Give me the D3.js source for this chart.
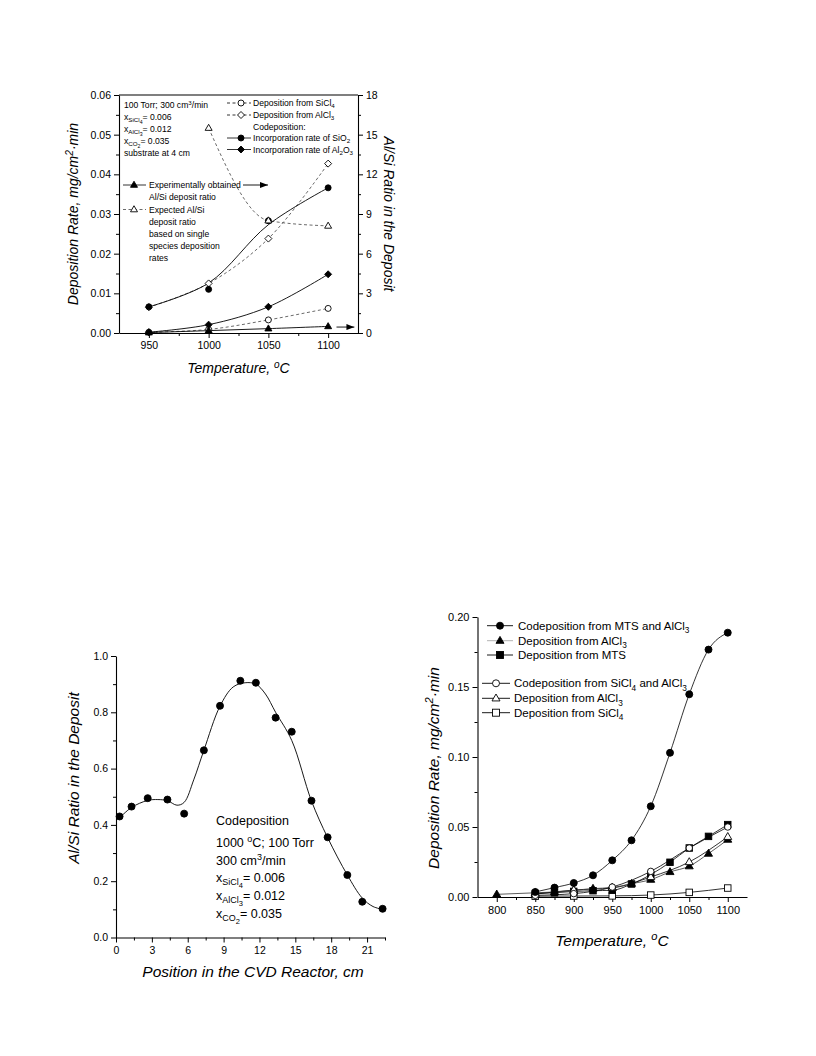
<!DOCTYPE html>
<html><head><meta charset="utf-8">
<script src="https://cdn.jsdelivr.net/npm/d3@7"></script>
<style>
body{margin:0;background:#fff;}
svg text{font-family:"Liberation Sans", Arial, Helvetica, sans-serif; fill:#000;}
</style></head><body>
<svg id="page" width="816" height="1056"></svg>
<script>
// ================= DATA =================
// Chart A (top): deposition rates vs temperature, substrate at 4 cm
const aTemps = [950, 1000, 1050, 1100];
const aDepSiCl4 = [0.0002, 0.0009, 0.0033, 0.0062];
const aDepAlCl3 = [0.0065, 0.0125, 0.0238, 0.0427];
const aIncSiO2 = [0.0066, 0.0110, 0.0283, 0.0366];
const aIncSiO2Fit = [0.0066, 0.0126, 0.0273, 0.0366];
const aIncAl2O3 = [0.0002, 0.0021, 0.0066, 0.0148];
const aRatioExp = [0.03, 0.18, 0.33, 0.50];
const aExpectedTemps = [1000, 1050, 1100];
const aRatioExpected = [15.5, 8.5, 8.1];
const aXTicks = [950, 1000, 1050, 1100];
const aYTicks = [0, 0.01, 0.02, 0.03, 0.04, 0.05, 0.06];
const aY2Ticks = [0, 3, 6, 9, 12, 15, 18];

// Chart B (bottom left): Al/Si ratio vs position
const bPos = [0.3, 1.3, 2.65, 4.3, 5.7, 7.35, 8.7, 10.4, 11.7, 13.35, 14.7, 16.35, 17.7, 19.35, 20.6, 22.3];
const bRatio = [0.43, 0.465, 0.495, 0.49, 0.44, 0.665, 0.823, 0.912, 0.905, 0.781, 0.731, 0.486, 0.356, 0.222, 0.127, 0.102];
const bFitPos = [0.3, 1.3, 2.65, 3.5, 4.3, 5.1, 5.7, 6.5, 7.35, 8.7, 9.8, 10.8, 11.7, 12.5, 13.35, 14.7, 16.35, 17.7, 19.35, 20.6, 21.5, 22.3];
const bFitRatio = [0.425, 0.462, 0.487, 0.49, 0.486, 0.47, 0.48, 0.56, 0.665, 0.822, 0.89, 0.905, 0.9, 0.865, 0.8, 0.70, 0.485, 0.355, 0.222, 0.14, 0.11, 0.10];
const bXTicks = [0, 3, 6, 9, 12, 15, 18, 21];
const bYTicks = [0, 0.2, 0.4, 0.6, 0.8, 1.0];

// Chart C (bottom right): deposition rates vs temperature
const cTempsMTS = [850, 875, 900, 925, 950, 975, 1000, 1025, 1050, 1075, 1100];
const cCodepMTS = [0.0036, 0.0067, 0.0100, 0.0155, 0.0262, 0.0405, 0.0648, 0.1030, 0.1448, 0.1767, 0.1888];
const cTempsAl = [800, 850, 875, 900, 925, 950, 975, 1000, 1025, 1050, 1075, 1100];
const cDepAlCl3Filled = [0.0019, 0.0030, 0.0036, 0.0046, 0.0060, 0.0068, 0.0095, 0.0124, 0.0179, 0.0220, 0.0310, 0.0410];
const cDepMTS = [0.0025, 0.0030, 0.0040, 0.0045, 0.0048, 0.0093, 0.0160, 0.0248, 0.0350, 0.0433, 0.0517];
const cTempsSi = [850, 900, 950, 1000, 1050, 1100];
const cCodepSiCl4 = [0.0012, 0.0024, 0.0071, 0.0183, 0.0350, 0.0500];
const cDepAlCl3Open = [0.0020, 0.0050, 0.0065, 0.0143, 0.0250, 0.0430];
const cDepSiCl4 = [0.0006, 0.0007, 0.0008, 0.0014, 0.0033, 0.0064];
const cXTicks = [800, 850, 900, 950, 1000, 1050, 1100];
const cYTicks = [0, 0.05, 0.10, 0.15, 0.20];

// ================= HELPERS =================
const svg = d3.select("#page");
svg.append("rect").attr("width", 816).attr("height", 1056).attr("fill", "#fff");
const defs = svg.append("defs");
defs.append("marker").attr("id", "arr").attr("viewBox", "0 0 8 6").attr("refX", 8).attr("refY", 3)
  .attr("markerWidth", 8).attr("markerHeight", 6).attr("markerUnits", "userSpaceOnUse").attr("orient", "auto")
  .append("path").attr("d", "M0,0 L8,3 L0,6 Z").attr("fill", "#000");

const OFF = {"0": 0, "1": 0.28, "2": 0.5, "-1": -0.38};
const SZ = {"0": 1, "1": 0.72, "2": 0.6, "-1": 0.72};
function rich(parent, x, y, parts, size, opt = {}) {
  const t = parent.append("text").attr("x", x).attr("y", y).style("font-size", size + "px");
  if (opt.anchor) t.attr("text-anchor", opt.anchor);
  if (opt.italic) t.style("font-style", "italic");
  if (opt.transform) t.attr("transform", opt.transform);
  let cur = 0;
  parts.forEach(p => {
    const [s, lvl] = typeof p === "string" ? [p, 0] : p;
    const off = OFF[lvl] * size;
    t.append("tspan").attr("dy", (off - cur).toFixed(2)).style("font-size", (SZ[lvl] * size).toFixed(2) + "px").text(s);
    cur = off;
  });
  return t;
}
function mark(g, type, cx, cy, s, filled) {
  let el;
  if (type === "circle") el = g.append("circle").attr("cx", cx).attr("cy", cy).attr("r", s / 2);
  else if (type === "square") el = g.append("rect").attr("x", cx - s / 2).attr("y", cy - s / 2).attr("width", s).attr("height", s);
  else if (type === "diamond") el = g.append("path").attr("d", `M${cx},${cy - s / 2}L${cx + s / 2},${cy}L${cx},${cy + s / 2}L${cx - s / 2},${cy}Z`);
  else if (type === "triangle") {
    const h = s * 0.866;
    el = g.append("path").attr("d", `M${cx},${cy - h * 0.62}L${cx + s / 2},${cy + h * 0.38}L${cx - s / 2},${cy + h * 0.38}Z`);
  }
  el.attr("fill", filled ? "#000" : "#fff").attr("stroke", "#000").attr("stroke-width", 0.9);
  return el;
}
function styleAxis(sel, fs) {
  sel.selectAll("path.domain").attr("stroke", "#000").attr("stroke-width", 1.1);
  sel.selectAll(".tick line").attr("stroke", "#000").attr("stroke-width", 1);
  sel.selectAll(".tick text").style("font-size", fs + "px").style("font-family", '"Liberation Sans", Arial, sans-serif').attr("fill", "#000");
}
function minor(g, axisFn, scale, vals, size, transform) {
  const a = g.append("g").attr("transform", transform || null)
    .call(axisFn(scale).tickValues(vals).tickSize(size).tickFormat("").tickSizeOuter(0));
  a.select("path.domain").remove();
  a.selectAll(".tick line").attr("stroke", "#000").attr("stroke-width", 1);
}
function seq(a, b, step) { const r = []; for (let v = a; v <= b + 1e-9; v += step) r.push(+v.toFixed(6)); return r; }

// ================= CHART A =================
(function () {
  const g = svg.append("g");
  const L = 119, R = 358, T = 95, B = 333;
  const x = d3.scaleLinear().domain([925, 1125]).range([L, R]);
  const y = d3.scaleLinear().domain([0, 0.06]).range([B, T]);
  const y2 = d3.scaleLinear().domain([0, 18]).range([B, T]);
  const FS = 10.5;

  g.append("line").attr("x1", L).attr("x2", R).attr("y1", T).attr("y2", T).attr("stroke", "#000").attr("stroke-width", 1.1);
  const ax = g.append("g").attr("transform", `translate(0,${B})`)
    .call(d3.axisBottom(x).tickValues(aXTicks).tickSize(5).tickPadding(4).tickSizeOuter(0).tickFormat(d3.format("d")));
  styleAxis(ax, FS);
  minor(g, d3.axisBottom, x, [975, 1025, 1075], 3, `translate(0,${B})`);
  const ay = g.append("g").attr("transform", `translate(${L},0)`)
    .call(d3.axisLeft(y).tickValues(aYTicks).tickSize(5).tickPadding(3).tickSizeOuter(0).tickFormat(d3.format(".2f")));
  styleAxis(ay, FS);
  minor(g, d3.axisLeft, y, seq(0.005, 0.055, 0.01), 3, `translate(${L},0)`);
  const ay2 = g.append("g").attr("transform", `translate(${R},0)`)
    .call(d3.axisRight(y2).tickValues(aY2Ticks).tickSize(5).tickPadding(3).tickSizeOuter(0).tickFormat(d3.format("d")));
  styleAxis(ay2, FS);
  minor(g, d3.axisRight, y2, seq(1.5, 16.5, 3), 3, `translate(${R},0)`);

  const plotLine = (xs, ys, ys_scale, dashed, curve) => {
    const ln = d3.line().x((d, i) => x(xs[i])).y(d => ys_scale(d)).curve(curve || d3.curveCatmullRom.alpha(0.5));
    g.append("path").attr("d", ln(ys)).attr("fill", "none").attr("stroke", dashed ? "#444" : "#000")
      .attr("stroke-width", dashed ? 0.8 : 0.9).attr("stroke-dasharray", dashed ? "3,2.5" : null);
  };
  plotLine(aTemps, aDepSiCl4, y, true);
  plotLine(aTemps, aDepAlCl3, y, true);
  plotLine(aExpectedTemps, aRatioExpected, y2, true, d3.curveMonotoneX);
  plotLine(aTemps, aIncSiO2Fit, y, false);
  plotLine(aTemps, aIncAl2O3, y, false);
  plotLine(aTemps, aRatioExp, y2, false);

  aTemps.forEach((t, i) => mark(g, "diamond", x(t), y(aDepAlCl3[i]), 7, false));
  aTemps.forEach((t, i) => mark(g, "circle", x(t), y(aDepSiCl4[i]), 6, false));
  aTemps.forEach((t, i) => mark(g, "circle", x(t), y(aIncSiO2[i]), 6, true));
  aTemps.forEach((t, i) => mark(g, "diamond", x(t), y(aIncAl2O3[i]), 7, true));
  aTemps.forEach((t, i) => mark(g, "triangle", x(t), y2(aRatioExp[i]), 7, true));
  aExpectedTemps.forEach((t, i) => mark(g, "triangle", x(t), y2(aRatioExpected[i]), 7, false));

  g.append("line").attr("x1", x(1107)).attr("x2", x(1122)).attr("y1", y2(0.45)).attr("y2", y2(0.45))
    .attr("stroke", "#000").attr("stroke-width", 0.9).attr("marker-end", "url(#arr)");

  const tf = 8.6;
  rich(g, 124, 108, ["100 Torr; 300 cm", ["3", -1], "/min"], tf);
  rich(g, 124, 120, ["x", ["SiCl", 1], ["4", 2], "= 0.006"], tf);
  rich(g, 124, 132, ["x", ["AlCl", 1], ["3", 2], "= 0.012"], tf);
  rich(g, 124, 144, ["x", ["CO", 1], ["2", 2], "= 0.035"], tf);
  rich(g, 124, 156, ["substrate at 4 cm"], tf);

  const lx1 = 227, lx2 = 251, mx = 241, tx = 253;
  const legA = [
    {y: 103, dashed: true, type: "circle", filled: false, parts: ["Deposition from SiCl", ["4", 1]]},
    {y: 115, dashed: true, type: "diamond", filled: false, parts: ["Deposition from AlCl", ["3", 1]]},
    {y: 126.5, parts: ["Codeposition:"]},
    {y: 138, dashed: false, type: "circle", filled: true, parts: ["Incorporation rate of SiO", ["2", 1]]},
    {y: 149.5, dashed: false, type: "diamond", filled: true, parts: ["Incorporation rate of Al", ["2", 1], "O", ["3", 1]]}
  ];
  legA.forEach(d => {
    if (d.type) {
      g.append("line").attr("x1", lx1).attr("x2", lx2).attr("y1", d.y).attr("y2", d.y).attr("stroke", "#000")
        .attr("stroke-width", 0.8).attr("stroke-dasharray", d.dashed ? "3,2.5" : null);
      mark(g, d.type, mx, d.y, d.type === "diamond" ? 7 : 6, d.filled);
    }
    rich(g, tx, d.y + 3, d.parts, tf);
  });

  g.append("line").attr("x1", 123).attr("x2", 146).attr("y1", 185).attr("y2", 185).attr("stroke", "#000").attr("stroke-width", 0.8);
  mark(g, "triangle", 134, 185, 7, true);
  rich(g, 149, 188, ["Experimentally obtained"], tf);
  g.append("line").attr("x1", 243).attr("x2", 268).attr("y1", 185).attr("y2", 185).attr("stroke", "#000").attr("stroke-width", 0.9).attr("marker-end", "url(#arr)");
  rich(g, 149, 200, ["Al/Si deposit ratio"], tf);
  g.append("line").attr("x1", 123).attr("x2", 146).attr("y1", 209.5).attr("y2", 209.5).attr("stroke", "#444").attr("stroke-width", 0.8).attr("stroke-dasharray", "3,2.5");
  mark(g, "triangle", 134, 209.5, 7, false);
  ["Expected Al/Si", "deposit ratio", "based on single", "species deposition", "rates"].forEach((s, i) => {
    rich(g, 149, 212.5 + i * 12, [s], tf);
  });

  rich(g, 0, 0, ["Deposition Rate, mg/cm", ["2", -1], "·min"], 14, {anchor: "middle", italic: true, transform: `translate(78,${(T + B) / 2}) rotate(-90)`});
  rich(g, 0, 0, ["Al/Si Ratio in the Deposit"], 14, {anchor: "middle", italic: true, transform: `translate(384,${(T + B) / 2}) rotate(90)`});
  rich(g, (L + R) / 2, 373, ["Temperature, ", ["o", -1], "C"], 14, {anchor: "middle", italic: true});
})();

// ================= CHART B =================
(function () {
  const g = svg.append("g");
  const L = 116, R = 385, T = 656, B = 937.5;
  const x = d3.scaleLinear().domain([0, 22.5]).range([L, R]);
  const y = d3.scaleLinear().domain([0, 1]).range([B, T]);
  const FS = 10.5;
  const ax = g.append("g").attr("transform", `translate(0,${B})`)
    .call(d3.axisBottom(x).tickValues(bXTicks).tickSize(5).tickPadding(4).tickSizeOuter(0).tickFormat(d3.format("d")));
  styleAxis(ax, FS);
  minor(g, d3.axisBottom, x, seq(1.5, 22.5, 3), 3, `translate(0,${B})`);
  const ay = g.append("g").attr("transform", `translate(${L},0)`)
    .call(d3.axisLeft(y).tickValues(bYTicks).tickSize(5).tickPadding(3).tickSizeOuter(0).tickFormat(d3.format(".1f")));
  styleAxis(ay, FS);
  minor(g, d3.axisLeft, y, seq(0.1, 0.9, 0.2), 3, `translate(${L},0)`);

  const ln = d3.line().x((d, i) => x(bFitPos[i])).y(d => y(d)).curve(d3.curveCatmullRom.alpha(0.5));
  g.append("path").attr("d", ln(bFitRatio)).attr("fill", "none").attr("stroke", "#000").attr("stroke-width", 0.9);
  bPos.forEach((p, i) => mark(g, "circle", x(p), y(bRatio[i]), 7, true));

  const fs = 12.5;
  rich(g, 216, 825, ["Codeposition"], fs);
  rich(g, 216, 846.5, ["1000 ", ["o", -1], "C; 100 Torr"], fs);
  rich(g, 216, 864.5, ["300 cm", ["3", -1], "/min"], fs);
  rich(g, 216, 881.5, ["x", ["SiCl", 1], ["4", 2], "= 0.006"], fs);
  rich(g, 216, 899.5, ["x", ["AlCl", 1], ["3", 2], "= 0.012"], fs);
  rich(g, 216, 917.5, ["x", ["CO", 1], ["2", 2], "= 0.035"], fs);

  rich(g, 0, 0, ["Al/Si Ratio in the Deposit"], 15.5, {anchor: "middle", italic: true, transform: `translate(79,778) rotate(-90)`});
  rich(g, 253, 977, ["Position in the CVD Reactor, cm"], 15.5, {anchor: "middle", italic: true});
})();

// ================= CHART C =================
(function () {
  const g = svg.append("g");
  const L = 477.5, R = 747, T = 617, B = 897;
  const x = d3.scaleLinear().domain([775, 1125]).range([L, R]);
  const y = d3.scaleLinear().domain([0, 0.2]).range([B, T]);
  const FS = 11;
  const ax = g.append("g").attr("transform", `translate(0,${B})`)
    .call(d3.axisBottom(x).tickValues(cXTicks).tickSize(5).tickPadding(4).tickSizeOuter(0).tickFormat(d3.format("d")));
  styleAxis(ax, FS);
  minor(g, d3.axisBottom, x, seq(825, 1075, 50), 3, `translate(0,${B})`);
  const ay = g.append("g").attr("transform", `translate(${L},0)`)
    .call(d3.axisLeft(y).tickValues(cYTicks).tickSize(5).tickPadding(3).tickSizeOuter(0).tickFormat(d3.format(".2f")));
  styleAxis(ay, FS);
  minor(g, d3.axisLeft, y, seq(0.025, 0.175, 0.05), 3, `translate(${L},0)`);

  const plotLine = (xs, ys, col) => {
    const ln = d3.line().x((d, i) => x(xs[i])).y(d => y(d)).curve(d3.curveMonotoneX);
    g.append("path").attr("d", ln(ys)).attr("fill", "none").attr("stroke", col || "#000").attr("stroke-width", 0.8);
  };
  plotLine(cTempsSi, cDepSiCl4);
  plotLine(cTempsSi, cDepAlCl3Open);
  plotLine(cTempsSi, cCodepSiCl4);
  plotLine(cTempsAl, cDepAlCl3Filled, "#333");
  plotLine(cTempsMTS, cDepMTS);
  plotLine(cTempsMTS, cCodepMTS);

  cTempsSi.forEach((t, i) => mark(g, "square", x(t), y(cDepSiCl4[i]), 6.5, false));
  cTempsAl.forEach((t, i) => mark(g, "triangle", x(t), y(cDepAlCl3Filled[i]), 8, true));
  cTempsMTS.forEach((t, i) => mark(g, "square", x(t), y(cDepMTS[i]), 6.5, true));
  cTempsSi.forEach((t, i) => mark(g, "triangle", x(t), y(cDepAlCl3Open[i]), 8, false));
  cTempsSi.forEach((t, i) => mark(g, "circle", x(t), y(cCodepSiCl4[i]), 6.5, false));
  cTempsMTS.forEach((t, i) => mark(g, "circle", x(t), y(cCodepMTS[i]), 7, true));

  const fs = 11.5;
  const leg = [
    {y: 625.7, x1: 487, x2: 513, m: 500, tx: 518, type: "circle", filled: true, col: "#000", parts: ["Codeposition from MTS and AlCl", ["3", 1]]},
    {y: 640.7, x1: 487, x2: 513, m: 500, tx: 518, type: "triangle", filled: true, col: "#aaa", parts: ["Deposition from AlCl", ["3", 1]]},
    {y: 655, x1: 487, x2: 513, m: 500, tx: 518, type: "square", filled: true, col: "#000", parts: ["Deposition from MTS"]},
    {y: 683.3, x1: 482, x2: 510, m: 496, tx: 514, type: "circle", filled: false, col: "#000", parts: ["Codeposition from SiCl", ["4", 1], " and AlCl", ["3", 1]]},
    {y: 698.3, x1: 482, x2: 510, m: 496, tx: 514, type: "triangle", filled: false, col: "#000", parts: ["Deposition from AlCl", ["3", 1]]},
    {y: 712.7, x1: 482, x2: 510, m: 496, tx: 514, type: "square", filled: false, col: "#000", parts: ["Deposition from SiCl", ["4", 1]]}
  ];
  leg.forEach(d => {
    g.append("line").attr("x1", d.x1).attr("x2", d.x2).attr("y1", d.y).attr("y2", d.y).attr("stroke", d.col).attr("stroke-width", 0.9);
    mark(g, d.type, d.m, d.y, d.type === "triangle" ? 8 : 7, d.filled);
    rich(g, d.tx, d.y + 4, d.parts, fs);
  });

  rich(g, 0, 0, ["Deposition Rate, mg/cm", ["2", -1], "·min"], 15.5, {anchor: "middle", italic: true, transform: `translate(439,768) rotate(-90)`});
  rich(g, 612, 946, ["Temperature, ", ["o", -1], "C"], 15.5, {anchor: "middle", italic: true});
})();
</script>
</body></html>
